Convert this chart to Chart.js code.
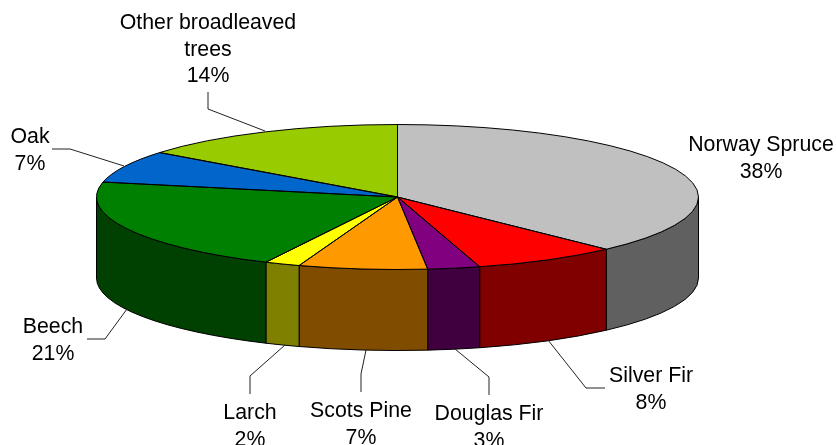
<!DOCTYPE html>
<html>
<head>
<meta charset="utf-8">
<style>html,body{margin:0;padding:0;background:#fff;overflow:hidden}#w{position:relative;width:836px;height:445px}</style>
<script src="https://cdn.jsdelivr.net/npm/chart.js@4"></script>
</head>
<body>
<div id="w"><canvas id="c" width="836" height="445"></canvas></div>
<script>
const categories = ["Norway Spruce","Silver Fir","Douglas Fir","Scots Pine","Larch","Beech","Oak","Other broadleaved trees"];
const labelLines = [["Norway Spruce"],["Silver Fir"],["Douglas Fir"],["Scots Pine"],["Larch"],["Beech"],["Oak"],["Other broadleaved","trees"]];
const percentLabels = ["38%","8%","3%","7%","2%","21%","7%","14%"];
const values = [37.8,7.8,2.8,6.9,1.9,21.1,7.2,14.5];
const topColors = ["#C0C0C0","#FF0000","#800080","#FF9900","#FFFF00","#008000","#0066CC","#99CC00"];
const wallColors = ["#606060","#800000","#400040","#804D00","#808000","#004000","#003366","#4D6600"];

// Layout of the annotation text and leader lines (screen space)
const labelCenterX = [761,651,489,361,250,53,30,208];
const labelBaseline = [151,382,420,417,419,333,143,29];
const lineHeight = 26.5;
const leaders = [null,
  [[605,388],[586,388],[548,340]],
  [[489,395],[489,377],[455,349]],
  [[361,392],[361,374],[366,350]],
  [[250,394],[250,376],[285,345]],
  [[87,339],[105,339],[127,309]],
  [[52,149],[70,149],[124,166]],
  [[208,92],[208,109],[265,131]]];

const RX = 301, RY = 72.5, DEPTH = 81;

const pie3d = {
  id: "pie3d",
  beforeDatasetsDraw(chart) {
    const ctx = chart.ctx, arcs = chart.getDatasetMeta(0).data;
    const a0 = arcs[0], cx = a0.x, cy = a0.y;
    ctx.save();
    ctx.lineWidth = 1; ctx.strokeStyle = "#000"; ctx.lineJoin = "round";
    // Walls, back to front so the neighbours overlap cleanly
    arcs.forEach((a, i) => {
      const s = Math.max(a.startAngle, 0), e = Math.min(a.endAngle, Math.PI);
      if (e <= s) return;
      ctx.beginPath();
      ctx.ellipse(cx, cy, RX, RY, 0, s, e);
      ctx.ellipse(cx, cy + DEPTH, RX, RY, 0, e, s, true);
      ctx.closePath();
      ctx.fillStyle = wallColors[i];
      ctx.fill(); ctx.stroke();
    });
    ctx.restore();
    // Squash the library's pie into the ellipse of the top face
    ctx.save();
    ctx.translate(cx, cy);
    ctx.scale(RX / a0.outerRadius, RY / a0.outerRadius);
    ctx.translate(-cx, -cy);
  },
  afterDatasetsDraw(chart) {
    const ctx = chart.ctx, arcs = chart.getDatasetMeta(0).data;
    ctx.restore();
    const cx = arcs[0].x, cy = arcs[0].y;
    ctx.save();
    ctx.lineWidth = 1; ctx.strokeStyle = "#000"; ctx.lineJoin = "round";
    arcs.forEach(a => {
      ctx.beginPath();
      ctx.moveTo(cx, cy);
      ctx.ellipse(cx, cy, RX, RY, 0, a.startAngle, a.endAngle);
      ctx.closePath();
      ctx.stroke();
    });
    // Leader lines
    ctx.strokeStyle = "#222";
    leaders.forEach(pts => {
      if (!pts) return;
      ctx.beginPath();
      pts.forEach((p, k) => k ? ctx.lineTo(p[0], p[1]) : ctx.moveTo(p[0], p[1]));
      ctx.stroke();
    });
    // Labels
    ctx.fillStyle = "#000";
    ctx.font = '21.3px "Liberation Sans", Arial, sans-serif';
    ctx.textAlign = "center";
    ctx.textBaseline = "alphabetic";
    labelLines.forEach((lines, i) => {
      const all = lines.concat(percentLabels[i]);
      all.forEach((t, k) => ctx.fillText(t, labelCenterX[i], labelBaseline[i] + k * lineHeight));
    });
    ctx.restore();
  }
};

new Chart(document.getElementById("c"), {
  type: "pie",
  data: {
    labels: categories,
    datasets: [{ data: values, backgroundColor: topColors, borderWidth: 0, clip: false }]
  },
  options: {
    responsive: false,
    animation: false,
    rotation: 0,
    layout: { padding: { left: 0, top: 0, right: 41, bottom: 51 } },
    plugins: { legend: { display: false }, tooltip: { enabled: false }, title: { display: false } }
  },
  plugins: [pie3d]
});
</script>
</body>
</html>
